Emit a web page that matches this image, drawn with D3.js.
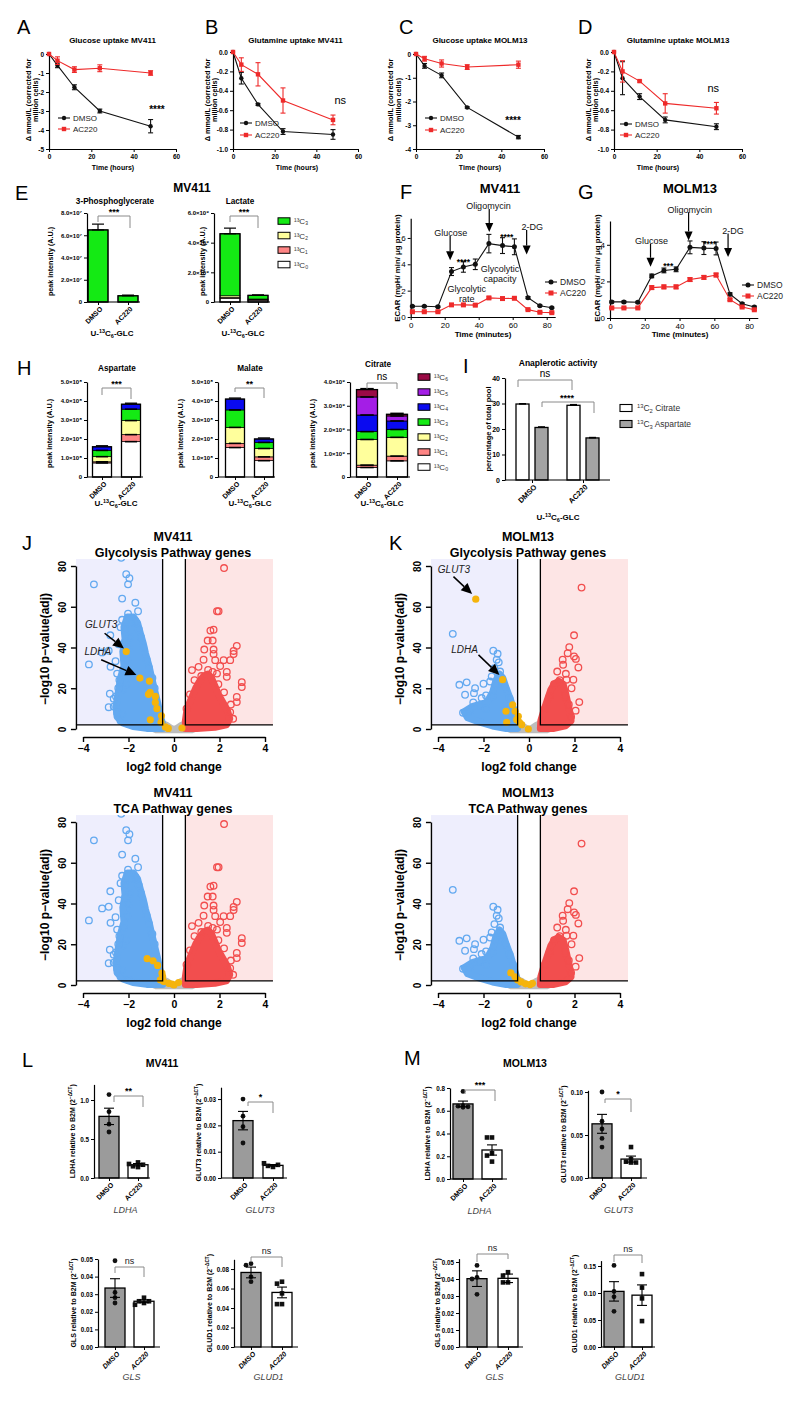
<!DOCTYPE html>
<html><head><meta charset="utf-8">
<script src="https://cdnjs.cloudflare.com/ajax/libs/d3/7.8.5/d3.min.js"></script>
<style>html,body{margin:0;padding:0;background:#fff}svg{display:block}</style>
</head><body>
<script>
// ================= DATA =================
const groups = ["DMSO", "AC220"];
// A–D uptake time courses
const uptakeHours = [0, 4, 12, 24, 48];
const glcMV411Dmso = [0, -0.6, -1.75, -3.0, -3.8];
const glcMV411DmsoErr = [0, 0.12, 0.13, 0.1, 0.35];
const glcMV411Ac = [0, -0.35, -0.82, -0.75, -1.0];
const glcMV411AcErr = [0, 0.2, 0.15, 0.18, 0.12];
const glnMV411Dmso = [0, -0.27, -0.54, -0.82, -0.85];
const glnMV411DmsoErr = [0, 0.06, 0.01, 0.03, 0.05];
const glnMV411Ac = [0, -0.13, -0.23, -0.5, -0.7];
const glnMV411AcErr = [0, 0.07, 0.12, 0.13, 0.05];
const glcMOLM13Dmso = [0, -0.5, -0.9, -2.25, -3.5];
const glcMOLM13DmsoErr = [0, 0.1, 0.1, 0.03, 0.07];
const glcMOLM13Ac = [0, -0.2, -0.4, -0.55, -0.45];
const glcMOLM13AcErr = [0, 0.1, 0.15, 0.1, 0.15];
const glnMOLM13Dmso = [0, -0.27, -0.46, -0.7, -0.77];
const glnMOLM13DmsoErr = [0, 0.17, 0.03, 0.03, 0.03];
const glnMOLM13Ac = [0, -0.2, -0.3, -0.53, -0.58];
const glnMOLM13AcErr = [0, 0.11, 0.01, 0.1, 0.06];
// F–G ECAR
const ecarMinutes = [1, 8, 16, 24, 31, 38, 46, 54, 61, 69, 76, 83];
const ecarMV411Dmso = [0.82, 0.82, 0.78, 3.45, 3.8, 4.0, 5.57, 5.42, 5.33, 1.47, 0.86, 0.7];
const ecarMV411DmsoErr = [0.05, 0.05, 0.05, 0.3, 0.4, 0.4, 0.7, 0.6, 0.6, 0.08, 0.05, 0.05];
const ecarMV411Ac = [0.4, 0.4, 0.4, 0.92, 0.92, 0.9, 1.45, 1.4, 1.42, 0.56, 0.36, 0.33];
const ecarMV411AcErr = [0.04, 0.04, 0.04, 0.06, 0.06, 0.06, 0.08, 0.08, 0.08, 0.04, 0.04, 0.04];
const ecarMOLM13Dmso = [0.88, 0.88, 0.86, 2.3, 2.6, 2.66, 3.86, 3.82, 3.8, 1.3, 0.78, 0.6];
const ecarMOLM13DmsoErr = [0.05, 0.05, 0.05, 0.1, 0.13, 0.13, 0.35, 0.35, 0.35, 0.08, 0.05, 0.05];
const ecarMOLM13Ac = [0.55, 0.55, 0.55, 1.66, 1.7, 1.7, 2.1, 2.22, 2.35, 1.0, 0.6, 0.45];
const ecarMOLM13AcErr = [0.04, 0.04, 0.04, 0.1, 0.1, 0.1, 0.1, 0.1, 0.1, 0.05, 0.04, 0.04];
// E, H isotopologue stacks (13C0 ... 13Cn)
const isoLabels = ["¹³C₀", "¹³C₁", "¹³C₂", "¹³C₃", "¹³C₄", "¹³C₅", "¹³C₆"];
const pg3Stacks = [[0, 0, 0, 6.48e7], [0, 0, 0, 0.56e7]];
const pg3TopErr = [0.52e7, 0.06e7];
const lactateStacks = [[0.25e9, 0.05e9, 0.12e9, 4.18e9], [0.12e9, 0.03e9, 0.05e9, 0.25e9]];
const lactateTopErr = [0.38e9, 0.03e9];
const aspartateStacks = [[0.74e8, 0.06e8, 0.27e8, 0.33e8, 0.19e8], [1.86e8, 0.37e8, 0.74e8, 0.6e8, 0.26e8]];
const malateStacks = [[1.55e8, 0.22e8, 0.84e8, 0.92e8, 0.57e8], [0.86e8, 0.2e8, 0.44e8, 0.32e8, 0.18e8]];
const citrateStacks = [[0.4e9, 0.1e9, 1.08e9, 0.33e9, 0.7e9, 0.76e9, 0.31e9], [0.68e9, 0.2e9, 0.79e9, 0.33e9, 0.36e9, 0.21e9, 0.07e9]];
// I anaplerotic activity
const anaCitrateC2 = [29.8, 29.3];
const anaCitrateErr = [0.15, 0.3];
const anaAspartateC3 = [20.6, 16.5];
const anaAspartateErr = [0.25, 0.2];
// J, K volcano (log2FC, -log10 padj)
const mv411BlueCloud = [[-2.05,55],[-2.2,50],[-2.15,44],[-2.25,38],[-2.2,31],[-2.35,25],[-2.45,18],[-2.55,11],[-2.5,6],[-2.25,3],[-1.8,1.2],[-1.2,0.3],[-0.5,0.3],[-0.5,2.5],[-0.56,5],[-0.63,8],[-0.72,13],[-0.85,19],[-0.98,25],[-1.1,31],[-1.25,37],[-1.35,42],[-1.48,47],[-1.6,52],[-1.78,55]];
const mv411BlueOut = [[-2.32,84],[-2.1,76],[-1.96,74],[-2.02,71],[-3.52,71],[-2.28,64],[-1.7,62],[-1.58,57.8],[-2.02,56.6],[-2.28,53.6],[-2.35,50],[-2.8,46],[-2.43,41.6],[-3.16,37.6],[-2.87,38.4],[-3.74,31.7],[-2.79,30.5],[-2.57,33.3],[-2.5,27.2],[-2.2,28],[-2.82,17.3],[-2.65,14.9],[-2.87,10.7],[-2.65,11],[-2.28,7.4],[-2.24,19.5],[-2.1,22],[-2.4,24],[-2.05,34],[-1.95,45],[-2.15,49],[-1.85,52],[-1.7,53],[-1.55,49],[-1.45,45],[-1.35,40],[-1.2,34],[-1.1,30],[-0.95,25],[-0.85,20],[-2.0,40],[-2.15,43],[-2.45,20],[-2.55,16],[-2.5,8],[-2.35,4],[-2.0,2.5]];
const mv411RedCloud = [[0.5,0.3],[0.5,4],[0.55,8],[0.65,12],[0.8,16],[0.95,20],[1.1,23],[1.3,26],[1.5,27],[1.65,25],[1.8,21],[1.95,17],[2.15,13],[2.35,9],[2.45,5],[2.3,2],[1.8,0.8],[1.0,0.3]];
const mv411RedOut = [[2.2,79],[1.89,57.8],[1.96,57.8],[1.6,48.3],[1.74,48.7],[1.48,43.4],[1.7,43.4],[1.74,39],[1.33,39],[1.3,34],[1.74,36.8],[2.18,33.8],[2.62,38.3],[2.76,40.8],[2.62,36.8],[2.47,33.8],[2.32,25.6],[2.98,23],[2.98,20.6],[2.76,15.7],[2.76,13.2],[2.47,8.3],[1.81,33.8],[2.03,30.9],[1.89,27.2],[2.32,28],[1.08,30.5],[0.79,28.9],[1.2,26],[1.5,29],[1.7,28],[1.95,22],[2.2,18],[2.5,12],[2.6,5],[0.9,24],[0.7,17],[0.55,10]];
const molm13BlueCloud = [[-2.85,8.5],[-2.5,11],[-2.2,12],[-1.85,13],[-1.6,18],[-1.45,24],[-1.3,27],[-1.15,25],[-1.0,20],[-0.8,14],[-0.65,8],[-0.52,3],[-0.5,0.3],[-1.0,0.2],[-1.6,1.5],[-2.2,3.5],[-2.7,5.5]];
const molm13BlueOut = [[-3.35,46.7],[-3.06,21.7],[-2.74,22.9],[-2.81,16.8],[-2.37,20],[-2.42,17.6],[-2.45,13],[-2.08,15.2],[-2.0,22.2],[-1.89,16.5],[-1.57,38.4],[-1.38,36.9],[-1.42,34],[-1.33,32.7],[-1.52,29.9],[-1.64,25.8],[-1.27,28.2],[-2.15,11.4],[-1.71,23.3],[-2.6,9],[-2.9,8],[-1.9,10],[-1.6,16],[-1.45,22],[-1.25,24],[-1.05,20],[-0.85,15],[-0.7,10]];
const molm13RedCloud = [[0.5,0.3],[0.52,4],[0.65,9],[0.8,14],[0.95,19],[1.1,22],[1.3,23.5],[1.5,22],[1.6,18],[1.7,13],[1.8,8],[1.85,4],[1.6,1.5],[1.1,0.3]];
const molm13RedOut = [[2.31,69.4],[1.98,46],[1.77,40.2],[1.7,37.2],[1.98,35.6],[2.06,34.4],[2.17,30.2],[1.48,34],[1.5,31.5],[1.62,27.1],[1.24,28.2],[1.65,24.2],[1.95,24.2],[1.87,20],[2.21,13.2],[2.05,9],[1.58,16],[1.1,22],[1.35,24],[0.9,16],[0.7,10],[1.75,12],[1.85,6]];
const nsCloud = [[-1.1,0.5],[-0.7,1.8],[-0.5,3.2],[-0.3,2.2],[-0.12,0.8],[0,0.2],[0.12,0.8],[0.3,2.2],[0.5,3.2],[0.7,1.8],[1.1,0.5],[0.8,-0.8],[-0.8,-0.8]];
const mv411GlycoGenes = [[-2.1,38],[-1.5,25],[-1.08,23.5],[-1.05,18],[-1.12,17],[-0.82,16],[-0.82,13],[-0.75,10],[-1.04,4.5],[-0.55,6.5],[-0.57,3.3],[-0.38,1],[-0.25,0.3],[0.35,0.5]];
const mv411TcaGenes = [[-1.18,12.9],[-0.92,11.9],[-0.72,9.6],[-0.53,5.8],[-0.5,4.1],[-0.6,2.5],[-0.45,1.7],[-0.23,0.8],[-0.09,0.5],[0,0],[0.2,1.2]];
const molm13GlycoGenes = [[-2.34,63.7],[-1.16,24.2],[-0.72,11.9],[-1.01,8.7],[-0.61,8.7],[-0.47,6.2],[-0.54,4.6],[-0.98,3.3],[-0.32,2.1],[-0.03,0],[-0.42,3.3]];
const molm13TcaGenes = [[-0.8,6],[-0.62,4],[-0.5,2.5],[-0.35,1.5],[-0.15,0.6],[0.05,0.2],[0.15,0.8]];
// L, M qPCR (2^-dCT relative to B2M)
const ldhaMV411Pts = [[1.07, 0.85, 0.69, 0.59], [0.2, 0.15, 0.17, 0.18, 0.14]];
const ldhaMV411Mean = [0.79, 0.17], ldhaMV411Sem = [0.105, 0.015];
const glut3MV411Pts = [[0.030, 0.0235, 0.0195, 0.0133], [0.0042, 0.0046, 0.005, 0.0056]];
const glut3MV411Mean = [0.0218, 0.0048], glut3MV411Sem = [0.0035, 0.0003];
const glsMV411Pts = [[0.049, 0.031, 0.028, 0.025], [0.028, 0.026, 0.025, 0.026, 0.024]];
const glsMV411Mean = [0.0335, 0.026], glsMV411Sem = [0.0053, 0.0008];
const glud1MV411Pts = [[0.0855, 0.084, 0.072, 0.067], [0.067, 0.065, 0.055, 0.044, 0.044]];
const glud1MV411Mean = [0.0765, 0.056], glud1MV411Sem = [0.0055, 0.0055];
const ldhaMOLM13Pts = [[0.77, 0.645, 0.64, 0.635, 0.63], [0.365, 0.365, 0.226, 0.206, 0.153]];
const ldhaMOLM13Mean = [0.66, 0.255], ldhaMOLM13Sem = [0.025, 0.045];
const glut3MOLM13Pts = [[0.1, 0.066, 0.057, 0.046, 0.036], [0.036, 0.022, 0.019, 0.018, 0.018]];
const glut3MOLM13Mean = [0.063, 0.022], glut3MOLM13Sem = [0.011, 0.0035];
const glsMOLM13Pts = [[0.048, 0.041, 0.04, 0.031], [0.044, 0.042, 0.038, 0.038]];
const glsMOLM13Mean = [0.0402, 0.0404], glsMOLM13Sem = [0.0046, 0.0025];
const glud1MOLM13Pts = [[0.151, 0.103, 0.093, 0.066], [0.135, 0.11, 0.09, 0.048]];
const glud1MOLM13Mean = [0.103, 0.096], glud1MOLM13Sem = [0.018, 0.019];

// ================= DRAWING =================
const FONT = '"Liberation Sans", Arial, Helvetica, sans-serif';
const RED = "#ee2a2a", BLUE = "#63a9f0", PINK = "#f24e4e", ORANGE = "#f5b40c";
const isoColors = ["#ffffff", "#ff8585", "#ffff9c", "#14ea14", "#0a0af0", "#a41ee6", "#9a0a45"];
const svg = d3.select("body").append("svg").attr("width", 800).attr("height", 1401).attr("font-family", FONT);

function T(g, x, y, s, o = {}) {
  const t = g.append("text").attr("x", x).attr("y", y).text(s)
    .attr("font-size", o.size || 8).attr("text-anchor", o.anchor || "middle").attr("fill", o.fill || "#000");
  if (o.bold) t.attr("font-weight", "bold");
  if (o.italic) t.attr("font-style", "italic");
  if (o.rot != null) t.attr("transform", `rotate(${o.rot},${x},${y})`);
  return t;
}
function R(g, x, y, parts, o = {}) {
  const size = o.size || 8;
  const t = g.append("text").attr("x", x).attr("y", y).attr("font-size", size)
    .attr("text-anchor", o.anchor || "middle").attr("fill", o.fill || "#000");
  if (o.bold) t.attr("font-weight", "bold");
  if (o.rot != null) t.attr("transform", `rotate(${o.rot},${x},${y})`);
  let cur = 0;
  parts.forEach(p => {
    const s = typeof p === "string" ? p : p[0], k = typeof p === "string" ? null : p[1];
    const off = k === "sup" ? -0.4 * size : k === "sub" ? 0.25 * size : 0;
    t.append("tspan").attr("dy", (off - cur).toFixed(2)).attr("font-size", k ? size * 0.68 : size).text(s);
    cur = off;
  });
  return t;
}
function styleAxis(a, o = {}) {
  a.attr("font-family", FONT).attr("font-size", o.size || 6.5);
  a.select(".domain").attr("stroke", "#000").attr("stroke-width", o.sw || 1.2);
  a.selectAll(".tick line").attr("stroke", "#000").attr("stroke-width", o.tw || 1);
  a.selectAll(".tick text").attr("fill", "#000").attr("font-weight", o.bold === false ? "normal" : "bold");
}
function letter(s, x, y) { T(svg, x, y, s, { size: 20, anchor: "start" }); }
function marker(g, cx, cy, shape, color, r) {
  if (shape === "circle") g.append("circle").attr("cx", cx).attr("cy", cy).attr("r", r).attr("fill", color);
  else g.append("rect").attr("x", cx - r).attr("y", cy - r).attr("width", 2 * r).attr("height", 2 * r).attr("fill", color);
}
function legendItem(g, x0, x1, tx, y, label, shape, color, size, r) {
  g.append("line").attr("x1", x0).attr("x2", x1).attr("y1", y).attr("y2", y).attr("stroke", color).attr("stroke-width", 1.1);
  marker(g, (x0 + x1) / 2, y, shape, color, r);
  T(g, tx, y + size * 0.35, label, { size, anchor: "start", fill: "#222" });
}
function bracket(g, x1, x2, yl, y1, y2) {
  g.append("path").attr("d", `M${x1},${y1}V${yl}H${x2}V${y2}`).attr("fill", "none").attr("stroke", "#8a8a8a").attr("stroke-width", 1);
}
function errBar(g, cx, ylo, yhi, cap, color, sw) {
  g.append("line").attr("x1", cx).attr("x2", cx).attr("y1", ylo).attr("y2", yhi).attr("stroke", color).attr("stroke-width", sw || 1.1);
  [ylo, yhi].forEach(v => g.append("line").attr("x1", cx - cap).attr("x2", cx + cap).attr("y1", v).attr("y2", v).attr("stroke", color).attr("stroke-width", sw || 1.1));
}
function arrow(g, x1, y1, x2, y2, o = {}) {
  const hl = o.hl || 11, hw = o.hw || 4.5, sw = o.sw || 1.4;
  const a = Math.atan2(y2 - y1, x2 - x1);
  const bx = x2 - hl * Math.cos(a), by = y2 - hl * Math.sin(a);
  g.append("line").attr("x1", x1).attr("y1", y1).attr("x2", bx).attr("y2", by).attr("stroke", "#000").attr("stroke-width", sw);
  const px = -Math.sin(a) * hw, py = Math.cos(a) * hw;
  g.append("path").attr("d", `M${x2},${y2}L${bx + px},${by + py}L${bx - px},${by - py}Z`).attr("fill", "#000");
}

// ---------- line charts ----------
function lineChart(c) {
  const g = svg.append("g");
  const x = d3.scaleLinear().domain(c.xDomain).range(c.xRange);
  const y = d3.scaleLinear().domain(c.yDomain).range(c.yRange);
  const xa = g.append("g").attr("transform", `translate(0,${c.yRange[0]})`)
    .call(d3.axisBottom(x).tickValues(c.xTicks).tickSize(3).tickSizeOuter(0).tickPadding(2).tickFormat(d3.format("d")));
  styleAxis(xa, c.ax);
  const ya = g.append("g").attr("transform", `translate(${c.xRange[0]},0)`)
    .call(d3.axisLeft(y).tickValues(c.yTicks).tickSize(3).tickSizeOuter(0).tickPadding(2).tickFormat(c.yFmt));
  styleAxis(ya, c.ax);
  c.series.forEach(s => {
    const pts = c.t.map((t, i) => ({ t, v: s.v[i], e: s.e[i] }));
    g.append("path").datum(pts).attr("d", d3.line().x(d => x(d.t)).y(d => y(d.v)))
      .attr("fill", "none").attr("stroke", s.color).attr("stroke-width", 1.1);
    pts.filter(d => d.e > 0).forEach(d => errBar(g, x(d.t), y(d.v - d.e), y(d.v + d.e), 2.5, s.color, 1.1));
    pts.forEach(d => marker(g, x(d.t), y(d.v), s.shape, s.color, c.ms || 2.2));
  });
  return { g, x, y };
}
const fmtInt = d => d3.format("d")(d).replace("−", "-");
const fmt1 = d => d3.format(".1f")(d).replace("−", "-");

const uptakePanels = [
  { L: "A", lx: 17, title: "Glucose uptake MV411", xr: [49, 176], yd: [-5, 0], yr: [149, 54], yt: [0, -1, -2, -3, -4, -5], f: fmtInt, tx: 113,
    d: glcMV411Dmso, de: glcMV411DmsoErr, a: glcMV411Ac, ae: glcMV411AcErr, ylx: [31, 38], sig: "****", sigAt: [51, -2.85], leg: [58, 70, 73, 118, 129] },
  { L: "B", lx: 205, title: "Glutamine uptake MV411", xr: [233, 358], yd: [-1, 0], yr: [149, 52], yt: [0, -0.2, -0.4, -0.6, -0.8, -1.0], f: fmt1, tx: 297,
    d: glnMV411Dmso, de: glnMV411DmsoErr, a: glnMV411Ac, ae: glnMV411AcErr, ylx: [210, 217], sig: "ns", sigAt: [51.5, -0.5], leg: [240, 252, 255, 123, 135] },
  { L: "C", lx: 399, title: "Glucose uptake MOLM13", xr: [416, 544], yd: [-4, 0], yr: [149, 54], yt: [0, -1, -2, -3, -4], f: fmtInt, tx: 480,
    d: glcMOLM13Dmso, de: glcMOLM13DmsoErr, a: glcMOLM13Ac, ae: glcMOLM13AcErr, ylx: [393, 401], sig: "****", sigAt: [45.5, -2.75], leg: [425, 437, 440, 118, 130] },
  { L: "D", lx: 578, title: "Glutamine uptake MOLM13", xr: [614, 742], yd: [-1, 0], yr: [149, 52], yt: [0, -0.2, -0.4, -0.6, -0.8, -1.0], f: fmt1, tx: 658,
    d: glnMOLM13Dmso, de: glnMOLM13DmsoErr, a: glnMOLM13Ac, ae: glnMOLM13AcErr, ylx: [591, 598], sig: "ns", sigAt: [46.5, -0.38], leg: [620, 632, 635, 124, 135] }
];
uptakePanels.forEach(p => {
  letter(p.L, p.lx, 34);
  const { g, x, y } = lineChart({ xDomain: [0, 60], xRange: p.xr, yDomain: p.yd, yRange: p.yr, xTicks: [0, 20, 40, 60], yTicks: p.yt, yFmt: p.f,
    t: uptakeHours, ax: { size: 6.5 },
    series: [{ v: p.d, e: p.de, color: "#111", shape: "circle" }, { v: p.a, e: p.ae, color: RED, shape: "square" }] });
  const cx = (p.xr[0] + p.xr[1]) / 2;
  T(g, cx, 43, p.title, { size: 8, bold: true });
  T(g, p.tx, 170, "Time (hours)", { size: 7, bold: true });
  const cy = 100;
  T(g, p.ylx[0], cy, "Δ mmol/L (corrected for", { size: 7.3, bold: true, rot: -90 });
  T(g, p.ylx[1], cy, "million cells)", { size: 7.3, bold: true, rot: -90 });
  if (p.sig === "ns") T(g, x(p.sigAt[0]), y(p.sigAt[1]) + 3, "ns", { size: 11 });
  else T(g, x(p.sigAt[0]), y(p.sigAt[1]) + 5, p.sig, { size: 10, bold: true });
  legendItem(g, p.leg[0], p.leg[1], p.leg[2], p.leg[3], "DMSO", "circle", "#111", 8, 2.2);
  legendItem(g, p.leg[0], p.leg[1], p.leg[2], p.leg[4], "AC220", "square", RED, 8, 2.2);
});

// ---------- F, G ECAR ----------
const ecarPanels = [
  { L: "F", lx: 400, title: "MV411", titleX: 500, timeX: 483, xr: [410.7, 555.2], xd: [0, 85], yr: [317, 218.2], yd: [0, 7.5], yt: [0, 2, 4, 6], d: ecarMV411Dmso, de: ecarMV411DmsoErr, a: ecarMV411Ac, ae: ecarMV411AcErr,
    ylx: 400, leg: [545, 557, 560, 282, 293],
    notes: [["Glucose", 23.5, 6.35], ["Oligomycin", 45.7, 8.4], ["2-DG", 71.5, 6.8]],
    arrows: [[23.2, 6.15, 4.3], [46.2, 8.2, 6.45], [68.2, 6.6, 4.75]],
    stars: [["****", 31, 4.25], ["****", 56.5, 6.15]],
    extra: [["Glycolytic", 52.5, 3.65], ["capacity", 52.5, 2.85], ["Glycolytic", 33, 2.1], ["rate", 33, 1.35]] },
  { L: "G", lx: 578, title: "MOLM13", titleX: 690, timeX: 680, xr: [610, 757.8], xd: [0, 85], yr: [318, 221], yd: [0, 5.3], yt: [0, 2, 4], d: ecarMOLM13Dmso, de: ecarMOLM13DmsoErr, a: ecarMOLM13Ac, ae: ecarMOLM13AcErr,
    ylx: 600, leg: [742, 754, 757, 285, 296],
    notes: [["Glucose", 23.9, 4.2], ["Oligomycin", 45.9, 5.92], ["2-DG", 70.8, 4.78]],
    arrows: [[23.3, 4.05, 2.8], [45.2, 5.78, 4.24], [67.9, 4.62, 3.33]],
    stars: [["***", 33.5, 2.9], ["****", 57.4, 4.1]], extra: [] }
];
ecarPanels.forEach(p => {
  letter(p.L, p.lx, 199);
  const { g, x, y } = lineChart({ xDomain: p.xd, xRange: p.xr, yDomain: p.yd, yRange: p.yr, xTicks: [0, 20, 40, 60, 80], yTicks: p.yt, yFmt: fmtInt,
    t: ecarMinutes, ax: { size: 8, bold: false, sw: 1.2 }, ms: 2.5,
    series: [{ v: p.d, e: p.de, color: "#111", shape: "circle" }, { v: p.a, e: p.ae, color: RED, shape: "square" }] });
  T(g, p.titleX, 193, p.title, { size: 13, bold: true });
  T(g, p.timeX, 337, "Time (minutes)", { size: 8, bold: true });
  T(g, p.ylx, 268, "ECAR (mpH/ min/ μg protein)", { size: 7.8, bold: true, rot: -90 });
  p.notes.forEach(n => T(g, x(n[1]), y(n[2]) + 3, n[0], { size: 9, fill: "#111" }));
  p.arrows.forEach(a => arrow(g, x(a[0]), y(a[1]), x(a[0]), y(a[2]), { hl: 9, hw: 4, sw: 1.2 }));
  p.stars.forEach(s => T(g, x(s[1]), y(s[2]) + 4, s[0], { size: 8.5, bold: true }));
  p.extra.forEach(n => T(g, x(n[1]), y(n[2]) + 3, n[0], { size: 9, fill: "#111" }));
  legendItem(g, p.leg[0], p.leg[1], p.leg[2], p.leg[3], "DMSO", "circle", "#111", 8.5, 2.5);
  legendItem(g, p.leg[0], p.leg[1], p.leg[2], p.leg[4], "AC220", "square", RED, 8.5, 2.5);
});

// ---------- E, H stacked bars ----------
function sci(exp) {
  const sup = { 7: "⁷", 8: "⁸", 9: "⁹" }[exp];
  return d => d === 0 ? "0" : (d / Math.pow(10, exp)).toFixed(1) + "×10" + sup;
}
function catAxis(g, xs, ax, axEnd, y0, italic, fs) {
  const a = g.append("g").attr("transform", `translate(0,${y0})`).call(d3.axisBottom(xs).tickSize(3).tickSizeOuter(0));
  styleAxis(a, { size: fs || 7 });
  a.select(".domain").attr("d", `M${ax},0H${axEnd}`);
  a.selectAll(".tick text").attr("x", 0).attr("y", 0).attr("dy", "0.3em").attr("text-anchor", "end")
    .attr("transform", "translate(3,6) rotate(-45)").attr("font-style", italic ? "italic" : "normal");
}
function stacked(c) {
  const g = svg.append("g");
  const xs = d3.scalePoint().domain(groups).range(c.cx);
  const y = d3.scaleLinear().domain([0, c.max]).range([c.y0, c.yTop]);
  c.stacks.forEach((parts, i) => {
    const cx = xs(groups[i]), x0 = cx - c.bw / 2;
    let cum = 0;
    parts.forEach((v, k) => {
      if (v > 0) g.append("rect").attr("x", x0).attr("y", y(cum + v)).attr("width", c.bw).attr("height", y(cum) - y(cum + v))
        .attr("fill", isoColors[k]).attr("stroke", "#000").attr("stroke-width", 0.7);
      cum += v;
    });
    if (c.caps) {
      let cc = 0;
      parts.forEach((v, k) => { cc += v; if (k < parts.length - 1 && v > 0) g.append("line").attr("x1", cx - c.bw * 0.32).attr("x2", cx + c.bw * 0.32).attr("y1", y(cc)).attr("y2", y(cc)).attr("stroke", "#000").attr("stroke-width", 1.6); });
      g.append("line").attr("x1", cx - c.bw * 0.32).attr("x2", cx + c.bw * 0.32).attr("y1", y(cum) - 1).attr("y2", y(cum) - 1).attr("stroke", "#000").attr("stroke-width", 1.4);
    }
    if (c.err) errBar(g, cx, y(cum), y(cum + c.err[i]), c.bw * 0.3, "#000", 1.2);
    g.append("rect").attr("x", x0).attr("y", y(cum)).attr("width", c.bw).attr("height", y(0) - y(cum)).attr("fill", "none").attr("stroke", "#000").attr("stroke-width", 1.3);
  });
  const ya = g.append("g").attr("transform", `translate(${c.ax},0)`).call(d3.axisLeft(y).tickValues(c.ticks).tickFormat(c.fmt).tickSize(3).tickSizeOuter(0).tickPadding(2));
  styleAxis(ya, { size: 6 });
  catAxis(g, xs, c.ax, c.axEnd, c.y0, false, 7);
  T(g, c.titleX, c.titleY, c.title, { size: 8.2, bold: true });
  T(g, c.ylx, (c.y0 + c.yTop) / 2 + 4, "peak intensity (A.U.)", { size: 7.2, bold: true, rot: -90 });
  R(g, c.gx, c.gy, ["U-", ["13", "sup"], "C", ["6", "sub"], "-GLC"], { size: 8, bold: true });
  bracket(g, c.br[0], c.br[1], c.br[2], c.br[3], c.br[4]);
  if (c.sig === "ns") T(g, (c.br[0] + c.br[1]) / 2, c.br[2] - 3, "ns", { size: 10 });
  else T(g, (c.br[0] + c.br[1]) / 2, c.br[2] - 1, c.sig, { size: 9, bold: true });
}
letter("E", 15, 200);
T(svg, 192, 192, "MV411", { size: 12, bold: true });
stacked({ cx: [98, 128], bw: 20, y0: 302, yTop: 213, max: 8e7, ticks: [0, 2e7, 4e7, 6e7, 8e7], fmt: sci(7), ax: 87, axEnd: 140,
  stacks: pg3Stacks, err: pg3TopErr, title: "3-Phosphoglycerate", titleX: 115, titleY: 204, ylx: 53, gx: 112, gy: 336, br: [98, 130, 216, 222, 228], sig: "***" });
stacked({ cx: [230, 258], bw: 20, y0: 302, yTop: 213, max: 6e9, ticks: [0, 2e9, 4e9, 6e9], fmt: sci(9), ax: 214, axEnd: 270,
  stacks: lactateStacks, err: lactateTopErr, title: "Lactate", titleX: 240, titleY: 204, ylx: 205, gx: 243, gy: 336, br: [230, 258, 216, 222, 228], sig: "***" });
[3, 2, 1, 0].forEach((k, i) => {
  const yy = 221 + i * 14.5;
  svg.append("rect").attr("x", 278).attr("y", yy - 3.2).attr("width", 12).attr("height", 6.5).attr("fill", isoColors[k]).attr("stroke", "#000").attr("stroke-width", 1);
  T(svg, 294, yy + 3, isoLabels[k], { size: 8, anchor: "start", fill: "#333" });
});

letter("H", 17, 375);
stacked({ cx: [102, 131], bw: 19, y0: 477, yTop: 382, max: 5e8, ticks: [0, 1e8, 2e8, 3e8, 4e8, 5e8], fmt: sci(8), ax: 87, axEnd: 143, caps: true,
  stacks: aspartateStacks, title: "Aspartate", titleX: 117, titleY: 371, ylx: 52, gx: 116, gy: 506, br: [102, 131, 388, 395, 399], sig: "***" });
stacked({ cx: [235, 264], bw: 19, y0: 477, yTop: 382, max: 5e8, ticks: [0, 1e8, 2e8, 3e8, 4e8, 5e8], fmt: sci(8), ax: 218, axEnd: 275, caps: true,
  stacks: malateStacks, title: "Malate", titleX: 250, titleY: 371, ylx: 183, gx: 250, gy: 506, br: [235, 264, 388, 392, 398], sig: "**" });
stacked({ cx: [367, 397], bw: 21, y0: 477, yTop: 382, max: 4e9, ticks: [0, 1e9, 2e9, 3e9, 4e9], fmt: sci(9), ax: 350, axEnd: 410, caps: true,
  stacks: citrateStacks, title: "Citrate", titleX: 378, titleY: 367, ylx: 315, gx: 382, gy: 506, br: [367, 397, 383, 389, 389], sig: "ns" });
[6, 5, 4, 3, 2, 1, 0].forEach((k, i) => {
  const yy = 377 + i * 15;
  svg.append("rect").attr("x", 418).attr("y", yy - 3.2).attr("width", 12).attr("height", 6.5).attr("fill", isoColors[k]).attr("stroke", "#000").attr("stroke-width", 1);
  T(svg, 434, yy + 3, isoLabels[k], { size: 8, anchor: "start", fill: "#333" });
});

// ---------- I ----------
(function () {
  letter("I", 463, 373);
  const g = svg.append("g");
  const xs = d3.scalePoint().domain(groups).range([532, 583]);
  const y = d3.scaleLinear().domain([0, 40]).range([480, 378]);
  const off = 9.5, bw = 13;
  groups.forEach((k, i) => {
    [[anaCitrateC2, anaCitrateErr, "#fff", -off], [anaAspartateC3, anaAspartateErr, "#a3a3a3", off]].forEach(([v, e, f, o]) => {
      const cx = xs(k) + o;
      g.append("rect").attr("x", cx - bw / 2).attr("y", y(v[i])).attr("width", bw).attr("height", y(0) - y(v[i])).attr("fill", f).attr("stroke", "#000").attr("stroke-width", 1.3);
      errBar(g, cx, y(v[i]), y(v[i] + e[i]), 3.5, "#000", 1.2);
    });
  });
  const ya = g.append("g").attr("transform", "translate(505,0)").call(d3.axisLeft(y).tickValues([0, 10, 20, 30, 40]).tickSize(3).tickSizeOuter(0).tickPadding(2));
  styleAxis(ya, { size: 7 });
  catAxis(g, xs, 505, 610, 480, false, 7.5);
  T(g, 558, 366, "Anaplerotic activity", { size: 8.5, bold: true });
  T(g, 491, 429, "percentage of total pool", { size: 7.5, bold: true, rot: -90 });
  R(g, 558, 520, ["U-", ["13", "sup"], "C", ["6", "sub"], "-GLC"], { size: 8, bold: true });
  bracket(g, 518, 572, 380, 387, 390);
  T(g, 545, 377, "ns", { size: 10 });
  bracket(g, 542, 594, 402, 407, 413);
  T(g, 567, 401, "****", { size: 9, bold: true });
  [["#fff", ["", ["13", "sup"], "C", ["2", "sub"], " Citrate"], 408], ["#a3a3a3", ["", ["13", "sup"], "C", ["3", "sub"], " Aspartate"], 424]].forEach(([f, parts, yy]) => {
    g.append("rect").attr("x", 620).attr("y", yy - 3.5).attr("width", 12).attr("height", 7).attr("fill", f).attr("stroke", "#000").attr("stroke-width", 1.1);
    R(g, 637, yy + 3, parts, { size: 8.5, anchor: "start", fill: "#333" });
  });
})();

// ---------- J, K volcano ----------
function volcano(c) {
  const g = svg.append("g");
  const x = d3.scaleLinear().domain([-4, 4]).range([c.x0 - 91, c.x0 + 91]);
  const y = d3.scaleLinear().domain([0, 80]).range([c.y0, c.y0 - 163]);
  const L = x(-4.31), Rr = x(4.35), Tp = y(83.4), B = y(-3.4);
  const id = "clip" + c.id;
  g.append("clipPath").attr("id", id).append("rect").attr("x", L).attr("y", Tp).attr("width", Rr - L).attr("height", B - Tp);
  const p = g.append("g").attr("clip-path", `url(#${id})`);
  p.append("rect").attr("x", L).attr("y", Tp).attr("width", x(-0.5) - L).attr("height", y(2) - Tp).attr("fill", "#eeeefd");
  p.append("rect").attr("x", x(0.5)).attr("y", Tp).attr("width", Rr - x(0.5)).attr("height", y(2) - Tp).attr("fill", "#fde5e5");
  const poly = d3.line().x(d => x(d[0])).y(d => y(d[1])).curve(d3.curveLinearClosed);
  p.append("path").attr("d", poly(nsCloud)).attr("fill", "#bdbdbd").attr("stroke", "#bdbdbd").attr("stroke-width", 5).attr("stroke-linejoin", "round");
  p.append("path").attr("d", poly(c.blueCloud)).attr("fill", BLUE).attr("stroke", BLUE).attr("stroke-width", 7).attr("stroke-linejoin", "round");
  p.append("path").attr("d", poly(c.redCloud)).attr("fill", PINK).attr("stroke", PINK).attr("stroke-width", 7).attr("stroke-linejoin", "round");
  p.selectAll(null).data(c.blueOut).join("circle").attr("cx", d => x(d[0])).attr("cy", d => y(d[1])).attr("r", 3.3)
    .attr("fill", "none").attr("stroke", BLUE).attr("stroke-width", 1.3);
  p.selectAll(null).data(c.redOut).join("circle").attr("cx", d => x(d[0])).attr("cy", d => y(d[1])).attr("r", 3.3)
    .attr("fill", "none").attr("stroke", PINK).attr("stroke-width", 1.3);
  g.append("path").attr("d", `M${L},${y(2)}H${x(-0.5)}V${Tp}M${x(0.5)},${Tp}V${y(2)}H${Rr}`).attr("fill", "none").attr("stroke", "#000").attr("stroke-width", 1.3);
  p.selectAll(null).data(c.genes).join("circle").attr("cx", d => x(d[0])).attr("cy", d => y(d[1])).attr("r", 3.6).attr("fill", ORANGE);
  const ya = g.append("g").attr("transform", `translate(${L},0)`).call(d3.axisLeft(y).tickValues([0, 20, 40, 60, 80]).tickSize(5).tickSizeOuter(0));
  styleAxis(ya, { size: 10, sw: 1.4, tw: 1.4 });
  ya.selectAll(".tick text").attr("x", 0).attr("y", 0).attr("dy", 0).attr("text-anchor", "middle").attr("transform", "translate(-10,0) rotate(-90)");
  const xa = g.append("g").attr("transform", `translate(0,${c.y0 + 8})`).call(d3.axisBottom(x).tickValues([-4, -2, 0, 2, 4]).tickSize(5).tickSizeOuter(0).tickPadding(3));
  styleAxis(xa, { size: 10.5, sw: 1.4, tw: 1.4 });
  T(g, c.x0 - 1, c.y0 - 188, c.t1, { size: 12.5, bold: true });
  T(g, c.x0 - 1, c.y0 - 172, c.t2, { size: 12.5, bold: true });
  T(g, c.x0, c.y0 + 42, "log2 fold change", { size: 12, bold: true });
  T(g, L - 27, c.y0 - 80, "−log10 p−value(adj)", { size: 12, bold: true, rot: -90 });
  (c.notes || []).forEach(n => {
    T(g, x(n.tx), y(n.ty), n.label, { size: 10, italic: true, fill: "#222" });
    arrow(g, x(n.a[0]), y(n.a[1]), x(n.a[2]), y(n.a[3]), { hl: 11, hw: 5, sw: 1.5 });
  });
}
letter("J", 22, 550);
letter("K", 389, 550);
volcano({ id: "j1", x0: 174, y0: 729, t1: "MV411", t2: "Glycolysis Pathway genes", blueCloud: mv411BlueCloud, blueOut: mv411BlueOut, redCloud: mv411RedCloud, redOut: mv411RedOut, genes: mv411GlycoGenes,
  notes: [{ label: "GLUT3", tx: -3.2, ty: 49.5, a: [-3.05, 47, -2.2, 39.5] }, { label: "LDHA", tx: -3.35, ty: 36.5, a: [-3.2, 34, -1.65, 26.5] }] });
volcano({ id: "k1", x0: 529, y0: 729, t1: "MOLM13", t2: "Glycolysis Pathway genes", blueCloud: molm13BlueCloud, blueOut: molm13BlueOut, redCloud: molm13RedCloud, redOut: molm13RedOut, genes: molm13GlycoGenes,
  notes: [{ label: "GLUT3", tx: -3.3, ty: 76.7, a: [-3.32, 74.8, -2.5, 66.2] }, { label: "LDHA", tx: -2.83, ty: 37.2, a: [-2.22, 36.4, -1.3, 26.5] }] });
volcano({ id: "j2", x0: 174, y0: 985, t1: "MV411", t2: "TCA Pathway genes", blueCloud: mv411BlueCloud, blueOut: mv411BlueOut, redCloud: mv411RedCloud, redOut: mv411RedOut, genes: mv411TcaGenes });
volcano({ id: "k2", x0: 529, y0: 985, t1: "MOLM13", t2: "TCA Pathway genes", blueCloud: molm13BlueCloud, blueOut: molm13BlueOut, redCloud: molm13RedCloud, redOut: molm13RedOut, genes: molm13TcaGenes });

// ---------- L, M qPCR ----------
function swarm(vals, y, cx) {
  const placed = [], offs = [0, -5, 5, -9, 9];
  return vals.map(v => {
    const py = y(v);
    let ox = 0;
    for (const o of offs) { if (!placed.some(q => Math.hypot(q[0] - (cx + o), q[1] - py) < 4.5)) { ox = o; break; } }
    placed.push([cx + ox, py]);
    return [cx + ox, py];
  });
}
function dotBar(c) {
  const g = svg.append("g");
  const xs = d3.scalePoint().domain(groups).range(c.cx);
  const y = d3.scaleLinear().domain([0, c.top]).range([c.y0, c.yTop]);
  const bw = 20;
  groups.forEach((k, i) => {
    const cx = xs(k);
    g.append("rect").attr("x", cx - bw / 2).attr("y", y(c.mean[i])).attr("width", bw).attr("height", y(0) - y(c.mean[i]))
      .attr("fill", i === 0 ? "#9b9b9b" : "#fff").attr("stroke", "#000").attr("stroke-width", 1.3);
    swarm(c.pts[i], y, cx).forEach(([px, py]) => marker(g, px, py, i === 0 ? "circle" : "square", "#111", i === 0 ? 2.4 : 2.3));
    errBar(g, cx, y(c.mean[i] - c.sem[i]), y(c.mean[i] + c.sem[i]), 5, "#000", 1.1);
  });
  const ya = g.append("g").attr("transform", `translate(${c.ax},0)`).call(d3.axisLeft(y).tickValues(c.ticks).tickFormat(d3.format(c.fmt)).tickSize(3).tickSizeOuter(0).tickPadding(2));
  styleAxis(ya, { size: 6.3 });
  catAxis(g, xs, c.ax, c.axEnd, c.y0, c.italicTicks, 7);
  R(g, c.ylx, (c.y0 + c.yTop) / 2, [c.gene + " relative to B2M (2", ["−ΔCT", "sup"], ")"], { size: 7, bold: true, rot: -90 });
  T(g, (c.cx[0] + c.cx[1]) / 2 + 2, c.y0 + (c.italicTicks ? 33 : 35), c.gene, { size: 9, italic: true, fill: "#444" });
  bracket(g, c.br[0], c.br[1], c.br[2], c.br[3], c.br[4]);
  if (c.sig === "ns") T(g, (c.br[0] + c.br[1]) / 2, c.br[2] - 3, "ns", { size: 9, fill: "#222" });
  else T(g, (c.br[0] + c.br[1]) / 2, c.br[2] - 2, c.sig, { size: 9, bold: true });
}
letter("L", 22, 1067);
T(svg, 162, 1067, "MV411", { size: 10.5, bold: true });
letter("M", 404, 1065);
T(svg, 525, 1067, "MOLM13", { size: 10.5, bold: true });
dotBar({ gene: "LDHA", cx: [109, 138], ax: 94, axEnd: 150, y0: 1178, top: 1.2, yTop: 1084.4, ticks: [0, 0.5, 1.0], fmt: ".1f", pts: ldhaMV411Pts, mean: ldhaMV411Mean, sem: ldhaMV411Sem, ylx: 75, br: [114, 143, 1096, 1102, 1107], sig: "**" });
dotBar({ gene: "GLUT3", cx: [243, 273], ax: 221, axEnd: 287, y0: 1178, top: 0.0345, yTop: 1087.2, ticks: [0, 0.01, 0.02, 0.03], fmt: ".2f", pts: glut3MV411Pts, mean: glut3MV411Mean, sem: glut3MV411Sem, ylx: 201, br: [248, 273, 1102, 1106, 1113], sig: "*" });
dotBar({ gene: "LDHA", cx: [463, 492], ax: 450, axEnd: 507, y0: 1179, top: 0.8, yTop: 1088, ticks: [0, 0.2, 0.4, 0.6, 0.8], fmt: ".1f", pts: ldhaMOLM13Pts, mean: ldhaMOLM13Mean, sem: ldhaMOLM13Sem, ylx: 430, br: [465, 495, 1090, 1094, 1101], sig: "***" });
dotBar({ gene: "GLUT3", cx: [602, 631], ax: 588, axEnd: 647, y0: 1178, top: 0.102, yTop: 1090.3, ticks: [0, 0.05, 0.10], fmt: ".2f", pts: glut3MOLM13Pts, mean: glut3MOLM13Mean, sem: glut3MOLM13Sem, ylx: 566, br: [605, 631, 1099, 1103, 1112], sig: "*" });
dotBar({ gene: "GLS", cx: [115, 144], ax: 98, axEnd: 160, y0: 1347, top: 0.05, yTop: 1259, ticks: [0, 0.01, 0.02, 0.03, 0.04, 0.05], fmt: ".2f", pts: glsMV411Pts, mean: glsMV411Mean, sem: glsMV411Sem, ylx: 76, br: [115, 144, 1267, 1273, 1277], sig: "ns", italicTicks: true });
dotBar({ gene: "GLUD1", cx: [251, 282], ax: 234, axEnd: 298, y0: 1347, top: 0.09, yTop: 1259.3, ticks: [0, 0.02, 0.04, 0.06, 0.08], fmt: ".2f", pts: glud1MV411Pts, mean: glud1MV411Mean, sem: glud1MV411Sem, ylx: 212, br: [251, 282, 1257, 1262, 1267], sig: "ns", italicTicks: true });
dotBar({ gene: "GLS", cx: [477, 508], ax: 459, axEnd: 523, y0: 1347, top: 0.052, yTop: 1258.6, ticks: [0, 0.01, 0.02, 0.03, 0.04, 0.05], fmt: ".2f", pts: glsMOLM13Pts, mean: glsMOLM13Mean, sem: glsMOLM13Sem, ylx: 440, br: [477, 508, 1254, 1262, 1259], sig: "ns", italicTicks: true });
dotBar({ gene: "GLUD1", cx: [614, 642], ax: 601, axEnd: 655, y0: 1347, top: 0.16, yTop: 1260.6, ticks: [0, 0.05, 0.10, 0.15], fmt: ".2f", pts: glud1MOLM13Pts, mean: glud1MOLM13Mean, sem: glud1MOLM13Sem, ylx: 577, br: [614, 642, 1255, 1262, 1263], sig: "ns", italicTicks: true });
</script>
</body></html>
